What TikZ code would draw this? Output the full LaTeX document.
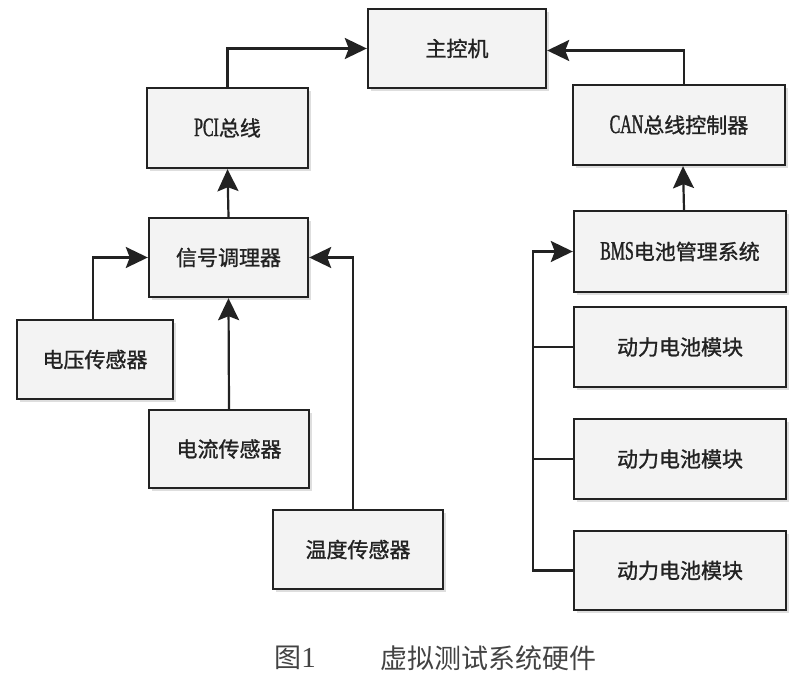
\documentclass[tikz,border=0pt]{standalone}
\usepackage{fontspec}
\setmainfont{Liberation Serif}
\newfontfamily\cjk{Noto Sans CJK SC}
\newfontfamily\cjkb[FakeBold=1.2]{Noto Sans CJK SC}
\newfontfamily\lat[FakeStretch=0.6,FakeBold=1.2]{Liberation Serif}
\usetikzlibrary{arrows.meta,shadows,calc}
\definecolor{ink}{HTML}{222222}
\definecolor{boxfill}{HTML}{F3F3F3}
\tikzset{
  blk/.style={draw=ink, line width=2.4pt, fill=boxfill, inner sep=0pt,
    text=ink, font={\fontsize{21}{24}\selectfont\cjkb},
    drop shadow={shadow xshift=3pt, shadow yshift=-3pt, fill=black!16, opacity=0.8}},
  conn/.style={draw=ink, line width=2.2pt},
  arr/.style={conn, -{Stealth[length=22pt, width=21pt, inset=4pt]}},
  capt/.style={text=ink!85, inner sep=0pt, font={\fontsize{27}{30}\selectfont\cjk}}
}
\newcommand{\lt}[1]{{\lat\fontsize{26.5}{26.5}\selectfont #1}}
\begin{document}
\begin{tikzpicture}[x=1pt, y=-1pt]
\useasboundingbox[fill=white] (0,0) rectangle (800,687);

% boxes
\node[blk, minimum width=178pt, minimum height=79pt] (main) at (457,48.5) {主控机};
\node[blk, minimum width=161pt, minimum height=80pt] (pci) at (227.5,128) {\lt{PCI}总线};
\node[blk, minimum width=212pt, minimum height=80pt] (can) at (679,125) {\lt{CAN}总线控制器};
\node[blk, minimum width=159pt, minimum height=79pt] (sig) at (228.5,257.5) {信号调理器};
\node[blk, minimum width=212pt, minimum height=81pt] (bms) at (680,251.5) {\lt{BMS}电池管理系统};
\node[blk, minimum width=156pt, minimum height=79pt] (volt) at (95,359.5) {电压传感器};
\node[blk, minimum width=160pt, minimum height=78pt] (cur) at (229,449) {电流传感器};
\node[blk, minimum width=170pt, minimum height=79pt] (temp) at (358,549.5) {温度传感器};
\node[blk, minimum width=212pt, minimum height=80pt] (bat1) at (680,347) {动力电池模块};
\node[blk, minimum width=212pt, minimum height=80pt] (bat2) at (680,459) {动力电池模块};
\node[blk, minimum width=212pt, minimum height=79pt] (bat3) at (680,570.5) {动力电池模块};

% connectors
\draw[arr] (pci.north) |- (main.west);
\draw[arr] ([xshift=5pt]can.north) |- ([yshift=-2pt]main.east);
\draw[arr] (sig.north) -- (pci.south);
\draw[arr] ([xshift=4pt]bms.north) -- ([xshift=4pt]can.south);
\draw[arr] ([xshift=-2pt]volt.north) |- (sig.west);
\draw[arr] (cur.north) -- (sig.south);
\draw[arr] ([xshift=-5pt]temp.north) |- (sig.east);

\coordinate (bus) at (533,0);
\draw[arr] (bat3.west) -- (bat3.west -| bus) |- (bms.west);
\draw[conn] (bat1.west) -- (bat1.west -| bus);
\draw[conn] (bat2.west) -- (bat2.west -| bus);

% caption
\node[capt] (fig) at (295,658) {图{\rmfamily\fontsize{29}{30}\selectfont 1}};
\node[capt] (title) at (488,658) {虚拟测试系统硬件};
\end{tikzpicture}
\end{document}
